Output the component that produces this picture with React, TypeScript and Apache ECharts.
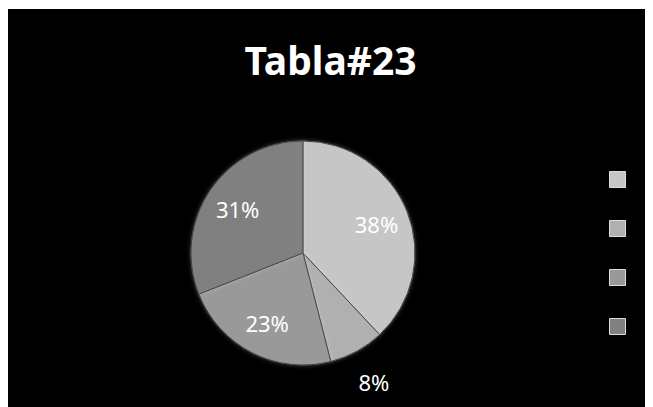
import React, { useEffect, useRef } from "react";
import * as echarts from "echarts";

const categories = ["A", "B", "C", "D"];
const values = [38, 8, 23, 31];
const sliceColors = ["#c6c6c6", "#b0b0b0", "#999999", "#808080"];
const titleText = "Tabla#23";

export default function App() {
  const ref = useRef<HTMLDivElement>(null);
  useEffect(() => {
    if (!ref.current) return;
    const chart = echarts.init(ref.current, undefined, { renderer: "svg" });
    const labelStyle = {
      position: "inside",
      formatter: "{d}%",
      color: "#ffffff",
      fontSize: 22,
      fontFamily: "Noto Sans",
    };
    const ghost = (radius: number, showIdx: (i: number) => boolean) => ({
      type: "pie",
      center: [295, 244],
      radius: [0, radius],
      startAngle: 90,
      clockwise: true,
      silent: true,
      legendHoverLink: false,
      itemStyle: { color: "rgba(0,0,0,0)", borderWidth: 0 },
      data: categories.map((c, i) => ({
        name: c,
        value: values[i],
        itemStyle: { color: "rgba(0,0,0,0)" },
        label: { ...labelStyle, show: showIdx(i) },
      })),
    });
    chart.setOption({
      animation: false,
      backgroundColor: "#000000",
      title: {
        text: titleText,
        left: "center",
        top: 26,
        textStyle: {
          color: "#ffffff",
          fontSize: 39,
          fontWeight: "bold",
          fontFamily: "Noto Sans",
        },
      },
      legend: {
        orient: "vertical",
        right: 22,
        top: 157,
        icon: "rect",
        itemWidth: 16,
        itemHeight: 16,
        itemGap: 32,
        formatter: () => "",
        textStyle: { fontSize: 1 },
        itemStyle: { borderColor: "#dddddd", borderWidth: 1 },
        data: categories,
      },
      series: [
        {
          type: "pie",
          center: [295, 244],
          radius: [0, 112],
          startAngle: 90,
          clockwise: true,
          silent: true,
          label: { show: false },
          labelLine: { show: false },
          data: categories.map((c, i) => ({
            name: c,
            value: values[i],
            itemStyle: { color: sliceColors[i] },
          })),
          itemStyle: {
            borderColor: "#444444",
            borderWidth: 1,
            shadowColor: "rgba(255,255,255,0.25)",
            shadowBlur: 4,
          },
        },
        ghost(152, (i) => i !== 1),
        ghost(288, (i) => i === 1),
      ],
    });
    return () => chart.dispose();
  }, []);
  return <div ref={ref} style={{ width: 645, height: 398, marginTop: 1 }} />;
}
